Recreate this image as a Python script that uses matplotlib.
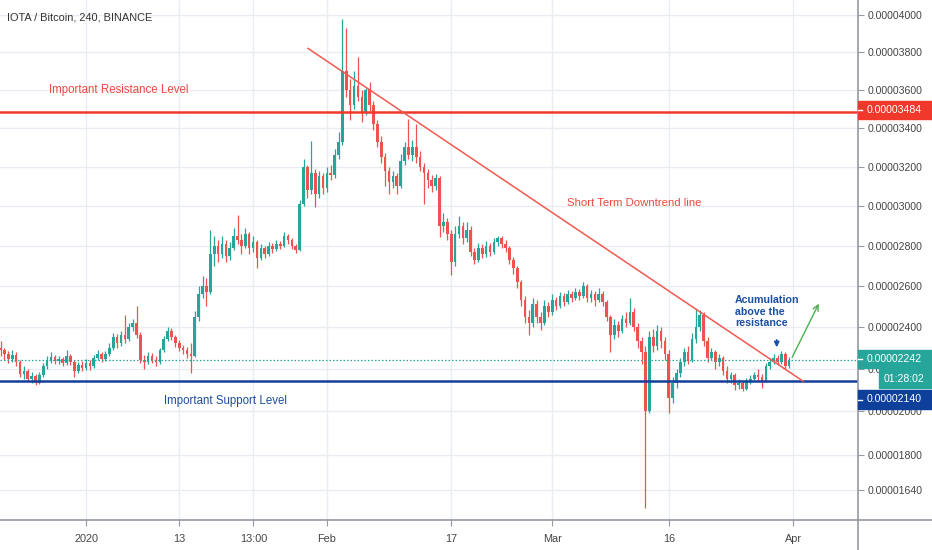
import numpy as np
import matplotlib
matplotlib.use('Agg')
import matplotlib.pyplot as plt
from matplotlib.lines import Line2D
from matplotlib.patches import Rectangle

# figure size in pixels, used to place text / price boxes
W, H = 932, 550

def fx(px):
    return px / W

def fy(py):
    return 1 - py / H

# 12h candles, prices in satoshi (1e-8 BTC)
closes = [
    2290, 2270, 2245, 2265, 2230, 2175, 2190, 2150, 2165, 2130,
    2170, 2210, 2240, 2255, 2235, 2245, 2225, 2260, 2230, 2190,
    2215, 2205, 2225, 2210, 2250, 2270, 2245, 2270, 2300, 2350,
    2320, 2360, 2340, 2400, 2420, 2360, 2240, 2230, 2260, 2240,
    2230, 2290, 2340, 2380, 2350, 2320, 2300, 2290, 2270, 2260,
    2450, 2560, 2600, 2570, 2760, 2800, 2760, 2810, 2750, 2790,
    2850, 2830, 2800, 2860, 2790, 2820, 2740, 2790, 2760, 2800,
    2785, 2810, 2800, 2850, 2830, 2800, 2780, 3010, 3200, 3080,
    3170, 3060, 3150, 3090, 3170, 3160, 3260, 3330, 3700, 3600,
    3520, 3620, 3560, 3480, 3600, 3520, 3420, 3330, 3250, 3180,
    3120, 3150, 3100, 3230, 3300, 3260, 3300, 3250, 3200, 3170,
    3130, 3100, 3140, 2900, 2920, 2860, 2720, 2860, 2900, 2840,
    2880, 2770, 2730, 2790, 2760, 2800, 2770, 2820, 2840, 2810,
    2790, 2730, 2690, 2620, 2530, 2450, 2420, 2510, 2450, 2420,
    2500, 2470, 2530, 2500, 2550, 2520, 2560, 2540, 2570, 2550,
    2600, 2540, 2560, 2530, 2560, 2520, 2450, 2360, 2410, 2380,
    2440, 2420, 2470, 2400, 2330, 2280, 2000, 2350, 2310, 2380,
    2330, 2270, 2060, 2130, 2180, 2230, 2280, 2240, 2340, 2400,
    2460, 2330, 2250, 2280, 2230, 2250, 2190, 2150, 2170, 2120,
    2130, 2105, 2140, 2150, 2170, 2160, 2140, 2210, 2230, 2250,
    2230, 2270, 2210, 2242,
]
highs = [
    2330, 2300, 2285, 2290, 2280, 2240, 2210, 2200, 2185, 2175,
    2185, 2225, 2260, 2280, 2265, 2260, 2255, 2290, 2270, 2240,
    2230, 2235, 2245, 2240, 2265, 2290, 2280, 2285, 2320, 2370,
    2365, 2380, 2460, 2420, 2440, 2500, 2375, 2265, 2280, 2275,
    2260, 2300, 2355, 2400, 2395, 2360, 2335, 2315, 2305, 2320,
    2475, 2600, 2650, 2640, 2880, 2850, 2830, 2850, 2830, 2820,
    2890, 2955, 2860, 2890, 2870, 2850, 2830, 2810, 2800, 2820,
    2815, 2830, 2825, 2870, 2860, 2840, 2810, 3030, 3240, 3210,
    3335, 3190, 3180, 3170, 3200, 3210, 3290, 3380, 3980, 3930,
    3660, 3700, 3775, 3600, 3610, 3640, 3540, 3440, 3360, 3270,
    3200, 3180, 3170, 3265, 3330, 3445, 3340, 3420, 3280, 3220,
    3190, 3160, 3165, 3150, 2965, 2940, 2880, 2900, 2950, 2920,
    2920, 2900, 2790, 2815, 2810, 2825, 2815, 2840, 2850, 2850,
    2830, 2800, 2745, 2700, 2630, 2550, 2480, 2540, 2530, 2470,
    2530, 2520, 2560, 2545, 2570, 2565, 2580, 2575, 2590, 2585,
    2620, 2610, 2580, 2575, 2590, 2575, 2530, 2460, 2440, 2430,
    2460, 2470, 2540, 2490, 2420, 2350, 2310, 2380, 2390, 2410,
    2400, 2350, 2290, 2160, 2200, 2250, 2300, 2310, 2370, 2485,
    2480, 2470, 2350, 2300, 2290, 2270, 2260, 2210, 2185, 2180,
    2150, 2145, 2155, 2170, 2185, 2200, 2175, 2225, 2250, 2270,
    2265, 2285, 2280, 2255,
]
lows = [
    2260, 2240, 2225, 2230, 2210, 2160, 2150, 2135, 2130, 2120,
    2125, 2160, 2200, 2225, 2220, 2220, 2210, 2215, 2215, 2160,
    2180, 2190, 2195, 2195, 2205, 2240, 2230, 2235, 2260, 2290,
    2300, 2310, 2320, 2330, 2380, 2345, 2225, 2200, 2220, 2225,
    2210, 2220, 2280, 2330, 2335, 2305, 2285, 2270, 2250, 2180,
    2255, 2430, 2540, 2500, 2560, 2700, 2720, 2740, 2720, 2730,
    2780, 2810, 2760, 2790, 2760, 2770, 2690, 2730, 2740, 2750,
    2765, 2775, 2785, 2795, 2810, 2785, 2765, 2775, 3000, 3040,
    3060, 2995, 3040, 3060, 3070, 3130, 3140, 3240, 3310, 3560,
    3440, 3500, 3540, 3430, 3470, 3490, 3390, 3300, 3220, 3100,
    3060, 3090, 3060, 3090, 3210, 3240, 3230, 3220, 3180, 3010,
    3090, 3070, 3080, 2845, 2870, 2830, 2655, 2700, 2840, 2810,
    2820, 2750, 2710, 2720, 2740, 2745, 2750, 2760, 2800, 2790,
    2770, 2710, 2660, 2590, 2500, 2420, 2360, 2400, 2420, 2385,
    2410, 2450, 2460, 2480, 2490, 2500, 2510, 2520, 2530, 2530,
    2540, 2520, 2520, 2500, 2520, 2500, 2430, 2280, 2340, 2350,
    2370, 2400, 2410, 2380, 2300, 2220, 1560, 1990, 2280, 2290,
    2300, 2240, 1990, 2040, 2110, 2160, 2210, 2220, 2230, 2320,
    2380, 2310, 2230, 2240, 2200, 2210, 2170, 2130, 2130, 2100,
    2105, 2095, 2100, 2125, 2140, 2140, 2110, 2135, 2200, 2220,
    2215, 2220, 2200, 2205,
]
first_open = 2300
opens = [first_open] + closes[:-1]
# day 0 = 1 Jan 2020, first candle 21 Dec 2019
days = [-11 + 0.5 * i for i in range(len(closes))]

resistance = 3484
support = 2140
last_price = 2242

y_ticks = [4000, 3800, 3600, 3400, 3200, 3000, 2800, 2600, 2400, 2200, 2000, 1800, 1640]
x_tick_pos = [0, 12, 21.54, 31, 47, 60, 75, 91]
x_tick_labels = ['2020', '13', '13:00', 'Feb', '17', 'Mar', '16', 'Apr']

# drawings
trend_x = [28.57, 92.3]
trend_y = [3820, 2140]
arrow_from = (90.73, 2242)
arrow_to = (94.47, 2525)
mark_from = (88.9, 2350)
mark_to = (88.9, 2288)

UP = '#26a69a'
DOWN = '#ef5350'
AX_COL = '#9598a1'
TXT_COL = '#454545'

fig = plt.figure(figsize=(W / 100, H / 100), dpi=100)
ax = fig.add_axes([0, 30 / H, 858 / W, 520 / H])

# TradingView style price scale (compressed towards the top)
ax.set_yscale('function', functions=(lambda p: np.sign(p) * np.abs(p) ** 0.79,
                                     lambda q: np.sign(q) * np.abs(q) ** (1 / 0.79)))
ax.set_xlim(-11.07, 99.36)
ax.set_ylim(1507, 4080)

o = np.array(opens)
c = np.array(closes)
colors = [UP if cc >= oo else DOWN for oo, cc in zip(o, c)]
ax.vlines(days, lows, highs, colors=colors, lw=0.9, zorder=3)
body_low = np.minimum(o, c)
body_h = np.maximum(np.abs(c - o), 4)
ax.bar(days, body_h, bottom=body_low, width=0.34, color=colors, lw=0, zorder=3)

# levels
ax.axhline(resistance, color='#f0392b', lw=1.8, zorder=4)
ax.axhline(support, color='#133f9a', lw=1.8, zorder=4)
ax.axhline(last_price, color=UP, lw=0.9, ls=(0, (1.2, 1.6)), zorder=4)

ax.plot(trend_x, trend_y, color='#f05a50', lw=1.1, zorder=5)
ax.annotate('', xy=arrow_to, xytext=arrow_from,
            arrowprops=dict(arrowstyle='->', color='#4caf50', lw=1.0, mutation_scale=10), zorder=5)
ax.annotate('', xy=mark_to, xytext=mark_from,
            arrowprops=dict(arrowstyle='-|>', color='#1c4fa0', lw=1.3, mutation_scale=7), zorder=5)

# axes / grid
ax.set_yticks(y_ticks)
ax.set_yticklabels([f'{v * 1e-8:.8f}' for v in y_ticks])
ax.yaxis.tick_right()
ax.set_xticks(x_tick_pos)
ax.set_xticklabels(x_tick_labels)
ax.grid(True, color='#e9ecf1', lw=1, zorder=0)
ax.set_axisbelow(True)
ax.tick_params(axis='y', length=4, color=AX_COL, labelsize=7.6, labelcolor=TXT_COL, pad=3)
ax.tick_params(axis='x', length=4, color=AX_COL, labelsize=7.8, labelcolor=TXT_COL, pad=6)
for lab in ax.get_xticklabels() + ax.get_yticklabels():
    lab.set_fontfamily(['Liberation Sans', 'DejaVu Sans'])
for s in ax.spines.values():
    s.set_visible(False)

fig.add_artist(Line2D([fx(858), fx(858)], [0, 1], color=AX_COL, lw=1.2))
fig.add_artist(Line2D([0, 1], [fy(520), fy(520)], color=AX_COL, lw=1.2))

# price boxes on the scale
def price_box(y0, y1, text, color, x0=858):
    fig.add_artist(Rectangle((fx(x0), fy(y1)), fx(W - x0), fy(y0) - fy(y1),
                             transform=fig.transFigure, color=color, zorder=6))
    fig.text(fx(x0 + 9 if x0 == 858 else x0 + 5), fy((y0 + y1) / 2), text, color='white',
             fontsize=7.6, va='center', ha='left', family=['Liberation Sans', 'DejaVu Sans'],
             zorder=7)
    if x0 == 858:
        fig.add_artist(Line2D([fx(858), fx(862)], [fy((y0 + y1) / 2)] * 2, color='white', lw=1, zorder=7))

price_box(101, 119, f'{resistance * 1e-8:.8f}', '#f0392b')
price_box(350, 368, f'{last_price * 1e-8:.8f}', UP)
price_box(369, 388, '01:28:02', UP, x0=879)
price_box(390, 409, f'{support * 1e-8:.8f}', '#0d3f9b')

# texts
narrow = ['Liberation Sans Narrow', 'Liberation Sans', 'DejaVu Sans']
fig.text(fx(7), fy(18), 'IOTA / Bitcoin, 240, BINANCE', color='#333333', fontsize=7.9,
         va='center', ha='left', family=['Liberation Sans', 'DejaVu Sans'])
fig.text(fx(49), fy(90), 'Important Resistance Level', color='#ea4a40', fontsize=8.3,
         va='center', ha='left', family=narrow)
fig.text(fx(567), fy(203), 'Short Term Downtrend line', color='#ea4a40', fontsize=8.2,
         va='center', ha='left', family=narrow)
fig.text(fx(164), fy(401), 'Important Support Level', color='#1c4fa0', fontsize=8.3,
         va='center', ha='left', family=narrow)
fig.text(fx(735), fy(295), 'Acumulation\nabove the\nresistance', color='#1c4fa0', fontsize=7.7,
         fontweight='bold', va='top', ha='left', linespacing=1.2, family=narrow)

fig.savefig('out.png', dpi=100)
